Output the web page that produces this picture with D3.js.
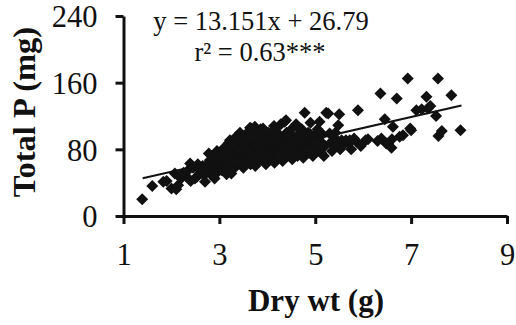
<!DOCTYPE html>
<html>
<head>
<meta charset="utf-8">
<script src="https://cdn.jsdelivr.net/npm/d3@7"></script>
<style>
  body { margin: 0; background: #fff; }
  text { font-family: "Liberation Serif", "Times New Roman", serif; }
</style>
</head>
<body>
<div id="chart"></div>
<script>
let w = 516;
let h = 325;

// dry weight (g) and total P (mg)
const dryWt = [
  1.39, 1.6, 1.83, 1.9, 2.0, 2.1, 2.14, 2.07, 2.2, 2.25,
  2.3, 2.35, 2.39, 2.45, 2.49, 2.53, 2.55, 2.6, 2.4, 2.58,
  2.65, 2.7, 2.73, 2.75, 2.8, 2.82, 2.85, 2.88, 2.9, 2.92, 2.95, 2.97, 3.0, 3.0, 2.78, 2.68,
  3.05, 3.08, 3.1, 3.12, 3.15, 3.18, 3.2, 3.22, 3.24, 3.25, 3.27, 3.3, 3.32, 3.35, 3.37, 3.4, 3.4, 3.43, 3.05, 3.15, 3.28, 3.38,
  3.45, 3.47, 3.5, 3.5, 3.52, 3.55, 3.57, 3.6, 3.62, 3.64, 3.65, 3.66, 3.68, 3.7, 3.72, 3.74, 3.75, 3.77, 3.78, 3.8, 3.48, 3.58, 3.69, 3.55,
  3.82, 3.85, 3.86, 3.88, 3.9, 3.91, 3.93, 3.95, 3.97, 4.0, 4.02, 4.04, 4.06, 4.08, 4.1, 4.12, 4.14, 4.16, 4.18, 4.2, 3.84, 3.99, 4.05, 4.15,
  4.22, 4.24, 4.26, 4.28, 4.3, 4.32, 4.34, 4.36, 4.38, 4.39, 4.4, 4.42, 4.45, 4.47, 4.5, 4.52, 4.55, 4.57, 4.6, 4.61, 4.25, 4.43, 4.48, 4.58,
  4.63, 4.65, 4.68, 4.7, 4.72, 4.75, 4.78, 4.8, 4.82, 4.85, 4.87, 4.9, 4.92, 4.95, 4.97, 5.0, 4.66, 4.88,
  5.05, 5.09, 5.1, 5.12, 5.15, 5.2, 5.23, 5.27, 5.3, 5.32, 5.35, 5.4, 5.45, 5.48, 5.5, 5.52, 5.55, 5.6, 5.18, 5.42,
  5.64, 5.7, 5.72, 5.81, 5.86, 5.89, 5.95, 6.05, 6.1, 5.75,
  6.36, 6.38, 6.45, 6.48, 6.52, 6.59, 6.62, 6.7, 6.76, 6.83, 6.93, 6.98, 7.0, 7.11, 7.22, 7.32, 7.35, 7.4, 7.52, 7.56, 7.57, 7.64, 7.84, 8.03, 6.3, 6.6,
  2.9, 3.0, 3.1, 3.2, 3.3, 3.4, 3.5, 3.6, 3.7, 3.8, 3.9, 4.0, 4.1, 4.2, 4.3, 4.4, 4.5, 4.6, 4.7, 4.8, 4.9, 5.0, 3.35, 3.65, 3.95, 4.25, 4.55, 4.85, 3.45, 4.75
];
const totalP = [
  20, 36, 41, 42, 33, 32, 37, 51, 45, 52,
  48, 55, 63, 58, 45, 47, 62, 52, 42, 56,
  60, 41, 61, 55, 67, 50, 72, 58, 45, 64, 78, 53, 70, 60, 75, 49,
  55, 55, 82, 65, 72, 60, 88, 91, 76, 51, 68, 80, 58, 95, 72, 64, 85, 100, 75, 50, 62, 78,
  70, 90, 58, 80, 96, 66, 75, 86, 102, 106, 62, 105, 70, 92, 80, 107, 60, 88, 74, 98, 62, 92, 84, 84,
  66, 82, 104, 92, 70, 105, 78, 96, 62, 86, 100, 74, 90, 68, 80, 96, 108, 105, 76, 88, 74, 80, 95, 64,
  70, 98, 82, 110, 92, 66, 76, 113, 86, 115, 100, 72, 90, 80, 104, 68, 94, 84, 110, 109, 88, 96, 75, 78,
  72, 98, 88, 80, 104, 70, 124, 92, 84, 100, 76, 112, 88, 72, 96, 82, 90, 94,
  104, 113, 90, 76, 98, 84, 124, 123, 99, 88, 78, 94, 84, 109, 122, 80, 91, 86, 72, 100,
  91, 87, 91, 93, 89, 127, 84, 91, 92, 80,
  147, 93, 116, 87, 87, 82, 107, 141, 95, 97, 165, 105, 103, 127, 128, 143, 129, 132, 120, 165, 96, 102, 145, 103, 90, 92,
  62, 66, 70, 78, 86, 74, 88, 78, 96, 84, 88, 76, 90, 96, 82, 78, 86, 94, 90, 78, 98, 88, 66, 68, 72, 74, 78, 80, 94, 96
];

const xTicks = [1, 3, 5, 7, 9];
const yTicks = [0, 80, 160, 240];
const slope = 13.151;
const intercept = 26.79;
const fitRange = [1.4, 8.05];

let data = dryWt.map((d, i) => ({x: d, y: totalP[i]}));

let svg = d3.select("#chart")
            .append("svg")
            .attr("width", w)
            .attr("height", h)
            .style("background-color", "#ffffff");

let x = d3.scaleLinear().domain([1, 9]).range([123.5, 507]);
let y = d3.scaleLinear().domain([0, 240]).range([216, 16]);

// points
let r = 6;
svg.selectAll(".pt").data(data)
   .enter().append("path")
   .attr("class", "pt")
   .attr("d", `M0,${-r}L${r},0L0,${r}L${-r},0Z`)
   .attr("transform", d => `translate(${x(d.x)},${y(d.y)})`)
   .attr("fill", "#111");

// trend line
svg.append("line")
   .attr("x1", x(fitRange[0]))
   .attr("y1", y(slope * fitRange[0] + intercept))
   .attr("x2", x(fitRange[1]))
   .attr("y2", y(slope * fitRange[1] + intercept))
   .attr("stroke", "#111")
   .attr("stroke-width", 2);

// axes
let xAxis = svg.append("g")
   .attr("transform", `translate(0,${y(0)})`)
   .call(d3.axisBottom(x).tickValues(xTicks).tickSize(8).tickSizeOuter(0).tickPadding(19));
let yAxis = svg.append("g")
   .attr("transform", `translate(${x(1)},0)`)
   .call(d3.axisLeft(y).tickValues(yTicks).tickSize(8).tickSizeOuter(0).tickPadding(18));

[xAxis, yAxis].forEach(a => {
  a.select(".domain").attr("stroke", "#111").attr("stroke-width", 3);
  a.selectAll(".tick line").attr("stroke", "#111").attr("stroke-width", 3);
  a.selectAll(".tick text")
   .attr("fill", "#111")
   .style("font-family", "'Liberation Serif', serif")
   .style("font-size", "30.5px");
});
yAxis.selectAll(".tick text").attr("dy", "0.36em");

// titles
svg.append("text")
   .text("Dry wt (g)")
   .attr("x", 316)
   .attr("y", 311)
   .attr("text-anchor", "middle")
   .attr("font-weight", "bold")
   .attr("font-size", 31)
   .attr("fill", "#111");

svg.append("text")
   .text("Total P (mg)")
   .attr("transform", "translate(35,112) rotate(-90)")
   .attr("text-anchor", "middle")
   .attr("font-weight", "bold")
   .attr("font-size", 32.5)
   .attr("fill", "#111");

// equation
svg.append("text")
   .text("y = 13.151x + 26.79")
   .attr("x", 261)
   .attr("y", 30)
   .attr("text-anchor", "middle")
   .attr("font-size", 26.5)
   .attr("fill", "#111");
svg.append("text")
   .text("r² = 0.63***")
   .attr("x", 260)
   .attr("y", 60.5)
   .attr("text-anchor", "middle")
   .attr("font-size", 26.5)
   .attr("fill", "#111");
</script>
</body>
</html>
